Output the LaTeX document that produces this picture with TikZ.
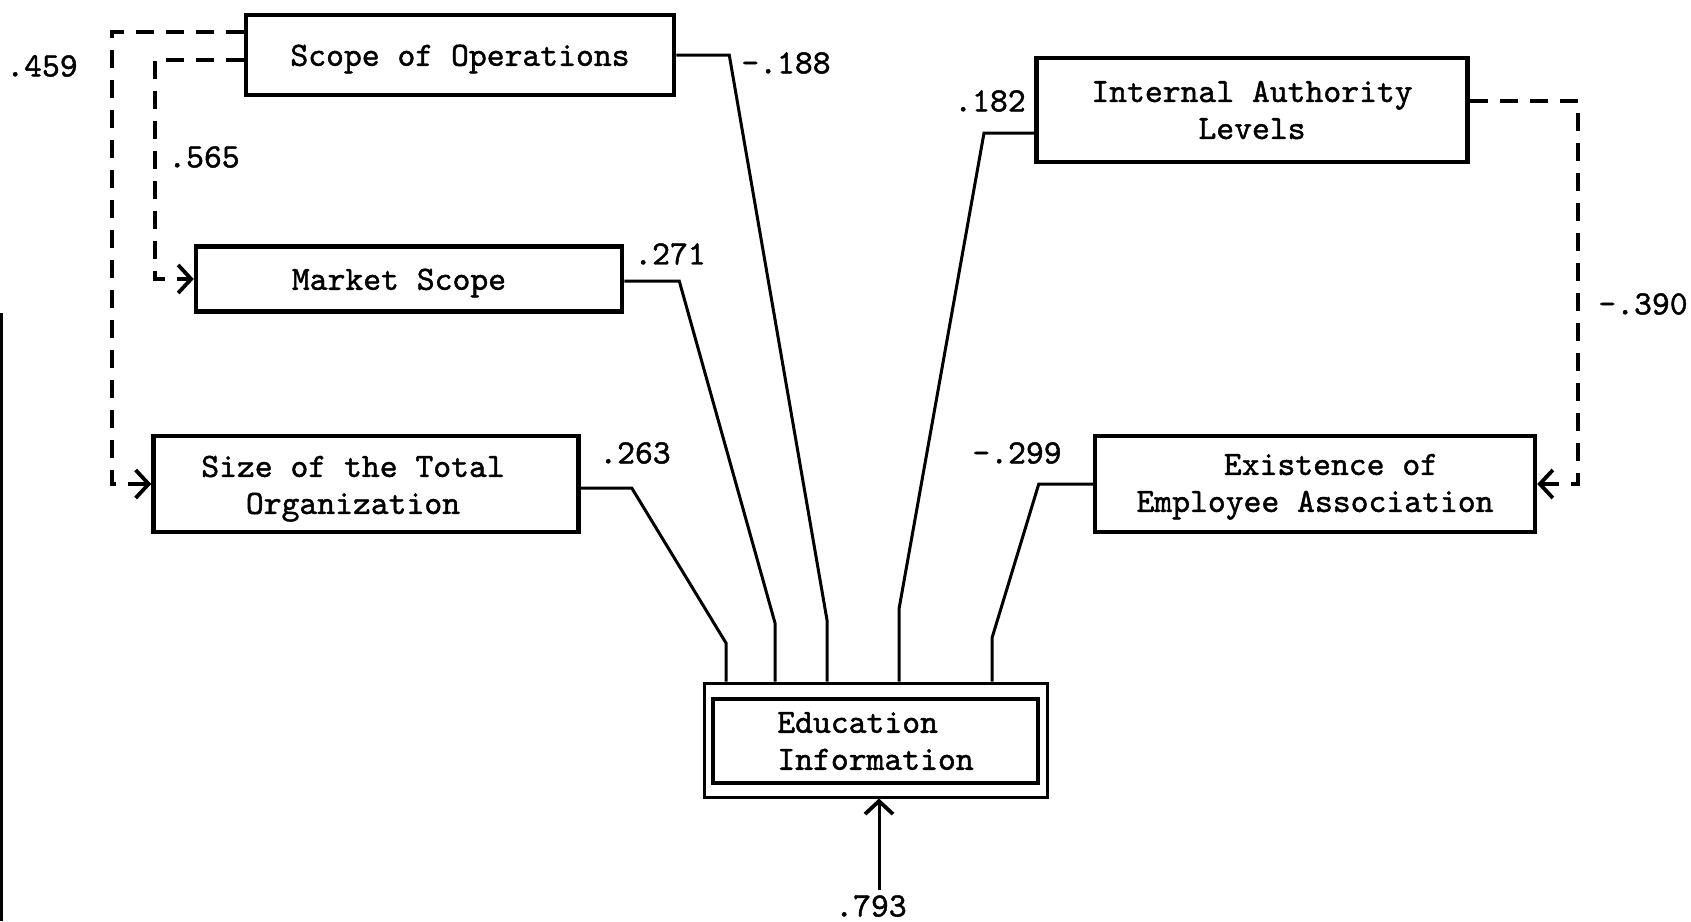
\documentclass[tikz,border=0pt]{standalone}
\usepackage{fontspec}
\usetikzlibrary{arrows.meta}
\newfontfamily\tw{lmmono10-regular}[Extension=.otf, FakeBold=1.3]
\newcommand{\twolines}[2]{\begin{tabular}{@{}c@{}}#1\\#2\end{tabular}}
\newcommand{\lowered}[2]{\raisebox{-#1}[\height][\depth]{#2}}
\begin{document}
\begin{tikzpicture}[x=1pt, y=-1pt,
  every node/.style={font=\tw\fontsize{34}{37}\selectfont},
  box/.style={draw, line width=4.5pt, rectangle, inner sep=0pt, align=center},
  link/.style={line width=3pt, line join=miter},
  corr/.style={line width=3.2pt, dash pattern=on 18pt off 12pt},
  barb/.style={-{Straight Barb[length=13pt, width=28pt, line width=3.8pt]}},
  coef/.style={inner sep=0pt}]
\useasboundingbox (0,0) rectangle (1691,921);

% variable boxes
\node[box, minimum width=428pt, minimum height=80pt] (sco) at (460,55) {\lowered{4pt}{Scope of Operations}};
\node[box, minimum width=426pt, minimum height=65pt] (mkt) at (409,279) {\lowered{4pt}{Market Scope}\hspace*{20pt}};
\node[box, minimum width=425pt, minimum height=96pt] (siz) at (366,484) {\lowered{4pt}{\twolines{Size of the Total}{Organization}}\hspace*{26pt}};
\node[box, minimum width=431pt, minimum height=104pt] (ial) at (1252,110) {Internal Authority\\Levels};
\node[box, minimum width=440pt, minimum height=96pt] (emp) at (1315,484) {\lowered{2pt}{\twolines{\hspace*{32pt}Existence of}{Employee Association}}};

% dependent variable: double frame
\node[draw, line width=3pt, rectangle, minimum width=343pt, minimum height=114pt] (edu) at (875.5,740) {};
\node[box, minimum width=325pt, minimum height=84pt, align=left] (edui) at (875.5,741) {Education\\Information};

% bend points of the paths
\coordinate (p1) at (827,620);
\coordinate (p2) at (775,623);
\coordinate (p3) at (726,643);
\coordinate (p4) at (899,609);
\coordinate (p5) at (992,638);
\coordinate (c4) at (984,133);
\coordinate (d1) at (112,32);
\coordinate (d2) at (155,60);
\coordinate (d3) at (1578,101);
\coordinate (res) at (879,890);

% paths into Education Information
\draw[link] (sco.east) -- ++(53,0) -- (p1) -- (p1 |- edu.north);
\draw[link] ([yshift=-2pt]mkt.east) -- ++(55,0) -- (p2) -- (p2 |- edu.north);
\draw[link] ([yshift=-4pt]siz.east) -- ++(51,0) -- (p3) -- (p3 |- edu.north);
\draw[link] (ial.west |- c4) -- (c4) -- (p4) -- (p4 |- edu.north);
\draw[link] (emp.west) -- ++(-54,0) -- (p5) -- (p5 |- edu.north);
\draw[link, barb] (res) -- (res |- edu.south);

% correlations among exogenous variables
\draw[corr, barb] (sco.west |- d1) -- (d1) -- (d1 |- siz.west) -- (siz.west);
\draw[corr, barb] (sco.west |- d2) -- (d2) -- (d2 |- mkt.west) -- (mkt.west);
\draw[corr, barb] (ial.east |- d3) -- (d3) -- (d3 |- emp.east) -- (emp.east);

% path coefficients
\node[coef] (k459) at (42,66) {.459};
\node[coef] (k565) at (204,157) {.565};
\node[coef] (k188) at (786,63) {-.188};
\node[coef] (k271) at (670,254) {.271};
\node[coef] (k263) at (635,453) {.263};
\node[coef] (k182) at (990,101) {.182};
\node[coef] (k299) at (1017,453) {-.299};
\node[coef] (k390) at (1643,304) {-.390};
\node[coef] (k793) at (871,906) {.793};

% edge line of the sheet
\draw[line width=3pt] (1.5,313) -- (1.5,921);
\end{tikzpicture}
\end{document}
